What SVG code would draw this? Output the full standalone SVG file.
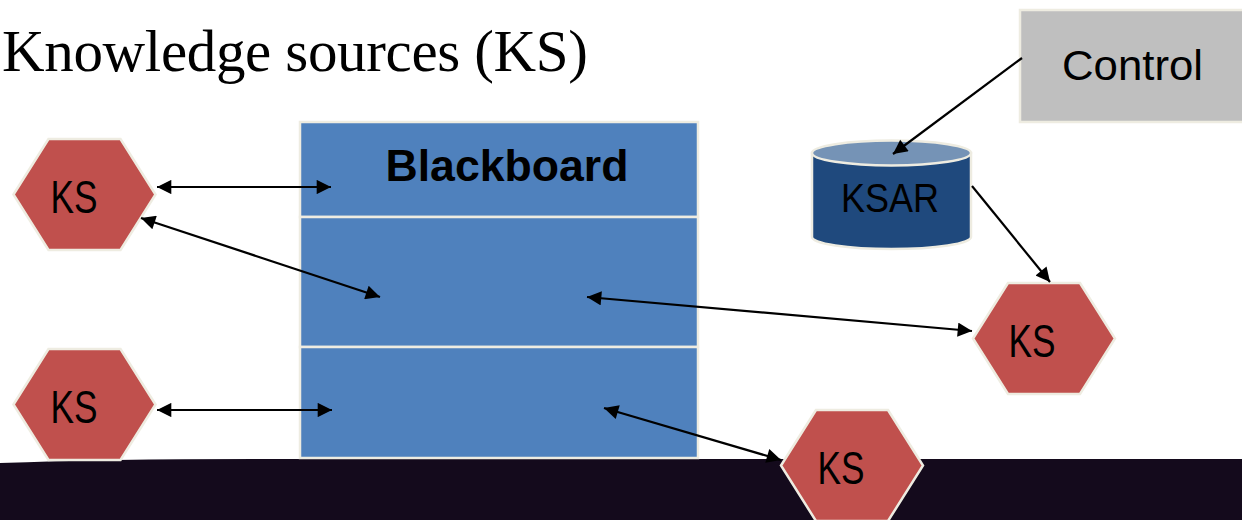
<svg xmlns="http://www.w3.org/2000/svg" width="1242" height="520" viewBox="0 0 1242 520">
  <style>
    .ks { fill: #c0504d; stroke: #eeece1; stroke-width: 2.5; }
    .lbl { font-family: "Liberation Sans", Arial, sans-serif; fill: #000; }
    .ks-t { font-size: 46px; }
    .bb { fill: #4f81bd; stroke: #eeece1; stroke-width: 2.5; }
    .ln { stroke: #000; stroke-width: 2.2; fill: none; }
    .title { font-family: "Liberation Serif", "Times New Roman", serif; font-size: 59px; fill: #000; }
  </style>
  <defs>
    <marker id="ah" viewBox="0 0 10 10" refX="10" refY="5" markerWidth="7.5" markerHeight="6.5" markerUnits="strokeWidth" orient="auto-start-reverse">
      <path d="M0,0 L10,5 L0,10 z" fill="#000"/>
    </marker>
    <polygon id="hex" points="-71,0 -36,-55.5 36,-55.5 71,0 36,55.5 -36,55.5"/>
  </defs>

  <rect width="1242" height="520" fill="#ffffff"/>

  <!-- dark floor band -->
  <path d="M0,463 Q120,458.5 300,459 L1242,459 L1242,520 L0,520 Z" fill="#140a1c"/>

  <text class="title" x="2" y="71" textLength="586" lengthAdjust="spacing">Knowledge sources (KS)</text>

  <!-- blackboard -->
  <g id="blackboard">
    <rect class="bb" x="300" y="122" width="398" height="95"/>
    <rect class="bb" x="300" y="217" width="398" height="130"/>
    <rect class="bb" x="300" y="347" width="398" height="111"/>
    <text class="lbl" x="507" y="181" text-anchor="middle" font-size="45" font-weight="bold" textLength="243" lengthAdjust="spacingAndGlyphs">Blackboard</text>
  </g>

  <!-- control -->
  <g id="control">
    <rect x="1020" y="10" width="226" height="112" fill="#bfbfbf" stroke="#eeece1" stroke-width="2.5"/>
    <text class="lbl" x="1132.5" y="80" text-anchor="middle" font-size="43" textLength="141" lengthAdjust="spacingAndGlyphs">Control</text>
  </g>

  <!-- KSAR store -->
  <g id="ksar">
    <path d="M812,153 L812,237 A79.5,12 0 0 0 971,237 L971,153 Z" fill="#1f497d" stroke="#eeece1" stroke-width="2.5"/>
    <ellipse cx="891.5" cy="153" rx="79.5" ry="12.5" fill="#7593b6" stroke="#eeece1" stroke-width="2.5"/>
    <text class="lbl" x="890" y="212" text-anchor="middle" font-size="41" textLength="98" lengthAdjust="spacingAndGlyphs">KSAR</text>
  </g>

  <!-- knowledge sources -->
  <g id="ks1">
    <use href="#hex" class="ks" x="84.5" y="194.5"/>
    <text class="lbl ks-t" x="74" y="213" text-anchor="middle" textLength="47" lengthAdjust="spacingAndGlyphs">KS</text>
  </g>
  <g id="ks2">
    <use href="#hex" class="ks" x="84.5" y="404.5"/>
    <text class="lbl ks-t" x="74" y="423" text-anchor="middle" textLength="47" lengthAdjust="spacingAndGlyphs">KS</text>
  </g>
  <g id="ks3">
    <use href="#hex" class="ks" x="1044" y="338.5"/>
    <text class="lbl ks-t" x="1032" y="357" text-anchor="middle" textLength="47" lengthAdjust="spacingAndGlyphs">KS</text>
  </g>
  <g id="ks4">
    <use href="#hex" class="ks" x="852" y="465.5"/>
    <text class="lbl ks-t" x="841" y="484" text-anchor="middle" textLength="47" lengthAdjust="spacingAndGlyphs">KS</text>
  </g>

  <!-- connectors -->
  <g id="connectors">
    <line class="ln" x1="1022" y1="58" x2="893" y2="154" marker-end="url(#ah)"/>
    <line class="ln" x1="972" y1="186" x2="1050" y2="282" marker-end="url(#ah)"/>
    <line class="ln" x1="157" y1="187" x2="331" y2="187" marker-start="url(#ah)" marker-end="url(#ah)"/>
    <line class="ln" x1="141" y1="218" x2="380" y2="297" marker-start="url(#ah)" marker-end="url(#ah)"/>
    <line class="ln" x1="157" y1="410" x2="332" y2="410" marker-start="url(#ah)" marker-end="url(#ah)"/>
    <line class="ln" x1="587" y1="297" x2="972" y2="331" marker-start="url(#ah)" marker-end="url(#ah)"/>
    <line class="ln" x1="604" y1="408" x2="781" y2="460" marker-start="url(#ah)" marker-end="url(#ah)"/>
  </g>
</svg>
